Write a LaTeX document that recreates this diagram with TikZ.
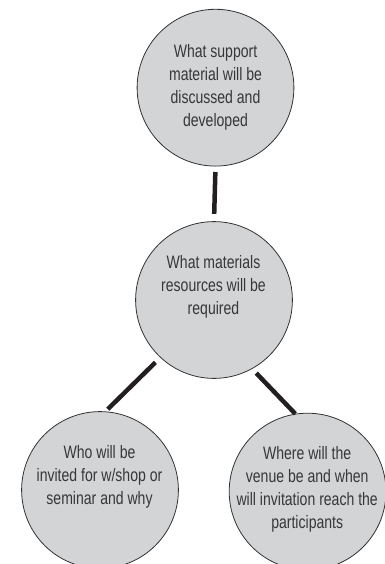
\documentclass[tikz,border=0pt]{standalone}
\usepackage{fontspec}
\setmainfont[FakeStretch=0.78]{Liberation Sans}
\definecolor{bubblefill}{RGB}{211,212,214}
\definecolor{bubbleline}{RGB}{50,50,50}
\definecolor{txtcol}{RGB}{55,55,55}
\definecolor{conncol}{RGB}{35,31,32}
\begin{document}
\begin{tikzpicture}[x=1pt,y=-1pt,
  bubble/.style={circle, draw=bubbleline, line width=0.8pt, fill=bubblefill, minimum size=156.8pt, inner sep=0pt},
  qtext/.style={anchor=base, inner sep=0pt, text=txtcol, font=\fontsize{18}{23}\selectfont},
  conn/.style={draw=conncol, line width=4.5pt}]
\useasboundingbox (0,0) rectangle (384,564);
\node[bubble] (top) at (215.5,87.7) {};
\node[bubble] (mid) at (214,300) {};
\node[bubble] (bl) at (100,490) {};
\node[bubble] (br) at (307.6,491.6) {};
\node[qtext] (ttop) at (215.5,57.3) {\setlength{\tabcolsep}{0pt}\begin{tabular}[t]{c}What support\\material will be\\discussed and\\developed\end{tabular}};
\node[qtext] (tmid) at (213.5,268.3) {\setlength{\tabcolsep}{0pt}\begin{tabular}[t]{c}What materials\\resources will be\\required\end{tabular}};
\node[qtext] (tbl) at (99.5,458.3) {\setlength{\tabcolsep}{0pt}\begin{tabular}[t]{c}Who will be\\invited for w/shop or\\seminar and why\end{tabular}};
\node[qtext] (tbr) at (307.2,459) {\setlength{\tabcolsep}{0pt}\begin{tabular}[t]{c}Where will the\\venue be and when\\will invitation reach the\\participants\end{tabular}};
\draw[conn, shorten <=5.5pt, shorten >=7.3pt] (top.south) -- (mid.north);
\draw[conn, shorten <=6.8pt, shorten >=3.2pt] (mid.227.8) -- (bl.86.5);
\draw[conn, shorten <=5.8pt, shorten >=0pt] (mid.299.8) -- (br.99.2);
\end{tikzpicture}
\end{document}
